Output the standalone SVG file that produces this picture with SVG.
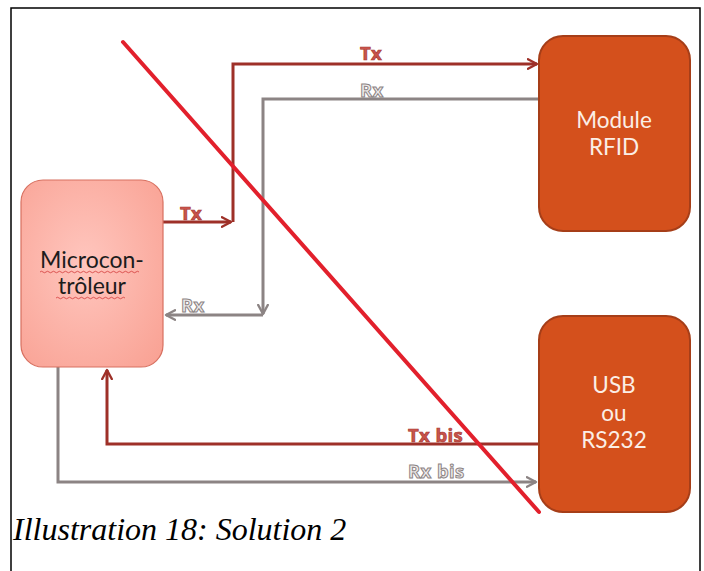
<svg xmlns="http://www.w3.org/2000/svg" width="704" height="571" viewBox="0 0 704 571">
  <defs>
    <radialGradient id="mcuFill" cx="0.45" cy="0.45" r="0.75">
      <stop offset="0" stop-color="#ffc6be"/>
      <stop offset="1" stop-color="#f9a193"/>
    </radialGradient>
    <marker id="arrRed" viewBox="0 0 10 10" refX="8.5" refY="5" markerWidth="4" markerHeight="4" orient="auto" markerUnits="strokeWidth">
      <path d="M1,1 L8.5,5 L1,9" fill="none" stroke="#9e3028" stroke-width="2" stroke-linecap="round" stroke-linejoin="round"/>
    </marker>
    <marker id="arrGray" viewBox="0 0 10 10" refX="8.5" refY="5" markerWidth="4" markerHeight="4" orient="auto" markerUnits="strokeWidth">
      <path d="M1,1 L8.5,5 L1,9" fill="none" stroke="#8c8484" stroke-width="2" stroke-linecap="round" stroke-linejoin="round"/>
    </marker>
  </defs>
  <style>
    .frame { fill: none; stroke: #000; stroke-width: 1.5; }
    .box { fill: #d4501c; stroke: #a63e18; stroke-width: 2; }
    .boxText { font-family: Lato, "Open Sans", "Liberation Sans", sans-serif; font-size: 22.5px; fill: #fbeee6; text-anchor: middle; }
    .mcuText { font-family: Lato, "Open Sans", "Liberation Sans", sans-serif; font-size: 23px; fill: #1c1c1c; text-anchor: middle; }
    .red { fill: none; stroke: #9e3028; stroke-width: 3; }
    .gray { fill: none; stroke: #8c8484; stroke-width: 3; }
    .lbl { font-family: "Open Sans", Lato, "Liberation Sans", sans-serif; font-weight: bold; font-size: 18.5px; letter-spacing: 0.4px; }
    .lblTx { fill: #c8544c; stroke: #a83a32; stroke-width: 0.7; }
    .lblRx { fill: #efebeb; stroke: #8c8484; stroke-width: 1; }
    .squiggle { fill: none; stroke: #d23a3a; stroke-width: 0.8; }
    .cross { stroke: #e2202c; stroke-width: 4; stroke-linecap: round; }
    .caption { font-family: "Liberation Serif", "Times New Roman", serif; font-style: italic; font-size: 32px; fill: #000; }
  </style>

  <rect width="704" height="571" fill="#fff"/>
  <!-- open frame: top, left and right edges -->
  <path class="frame" d="M11,571 L11,8 L700,8 L700,571"/>

  <!-- connectors -->
  <g id="connectors">
    <path class="red" d="M163,222 L231,222" marker-end="url(#arrRed)"/>
    <path class="red" d="M233,222 L233,64 L537,64" marker-end="url(#arrRed)"/>
    <path class="gray" d="M539,99 L263,99 L263,314" marker-end="url(#arrGray)"/>
    <path class="gray" d="M263,315 L166,315" marker-end="url(#arrGray)"/>
    <path class="red" d="M539,444 L107,444 L107,370" marker-end="url(#arrRed)"/>
    <path class="gray" d="M58,367 L58,482 L536,482" marker-end="url(#arrGray)"/>
    <text class="lbl lblTx" x="180" y="220">Tx</text>
    <text class="lbl lblTx" x="360" y="60">Tx</text>
    <text class="lbl lblRx" x="360" y="97">Rx</text>
    <text class="lbl lblRx" x="181" y="312">Rx</text>
    <text class="lbl lblTx" x="408" y="442">Tx bis</text>
    <text class="lbl lblRx" x="408" y="478">Rx bis</text>
  </g>

  <g id="mcu">
    <rect x="21" y="180" width="142" height="187" rx="22" fill="url(#mcuFill)" stroke="#d87060" stroke-width="1.2"/>
    <text class="mcuText" x="92" y="268">Microcon-</text>
    <text class="mcuText" x="92" y="294">trôleur</text>
    <path class="squiggle" d="M40,272 q1.5,-1.5 3,0 t3,0 t3,0 t3,0 t3,0 t3,0 t3,0 t3,0 t3,0 t3,0 t3,0 t3,0 t3,0 t3,0 t3,0 t3,0 t3,0 t3,0 t3,0 t3,0 t3,0 t3,0 t3,0 t3,0 t3,0 t3,0 t3,0 t3,0 t3,0 t3,0 t3,0 t3,0 t3,0"/>
    <path class="squiggle" d="M56,298 q1.5,-1.5 3,0 t3,0 t3,0 t3,0 t3,0 t3,0 t3,0 t3,0 t3,0 t3,0 t3,0 t3,0 t3,0 t3,0 t3,0 t3,0 t3,0 t3,0 t3,0 t3,0 t3,0 t3,0 t3,0"/>
  </g>

  <g id="rfid">
    <rect class="box" x="539" y="36" width="151" height="195" rx="24"/>
    <text class="boxText" x="614" y="128">Module</text>
    <text class="boxText" x="614" y="155">RFID</text>
  </g>

  <g id="usb">
    <rect class="box" x="539" y="316" width="151" height="196" rx="24"/>
    <text class="boxText" x="614" y="393">USB</text>
    <text class="boxText" x="614" y="421">ou</text>
    <text class="boxText" x="614" y="448">RS232</text>
  </g>

  <!-- strike-through line drawn over the whole drawing -->
  <line class="cross" x1="123" y1="42" x2="539" y2="512"/>

  <text class="caption" x="13" y="540">Illustration 18: Solution 2</text>
</svg>
